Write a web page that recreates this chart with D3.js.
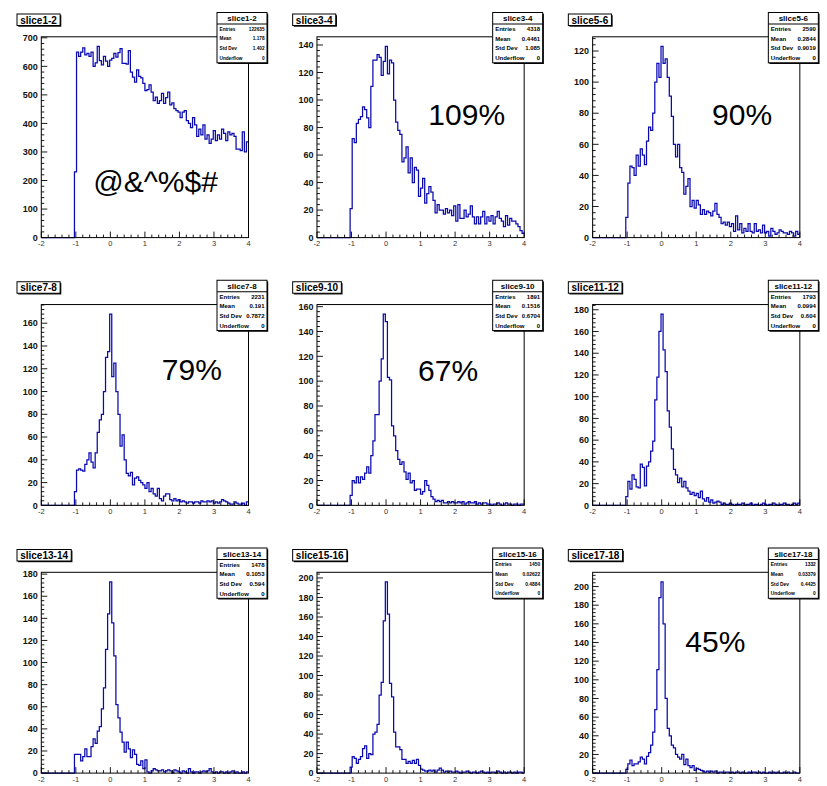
<!DOCTYPE html>
<html>
<head>
<meta charset="utf-8">
<script src="https://cdn.jsdelivr.net/npm/d3@7/dist/d3.min.js"></script>
<style>
    body { margin: 0; background: #fff; }
    svg { display: block; font-family: "Liberation Sans", Arial, Helvetica, sans-serif; }
</style>
</head>
<body>
<div id="canvas"></div>
<script>
// ─────────────────────────────────────────────
// DATA — 100 bins from -2 to 4, bins before FIRST_BIN are empty
// ─────────────────────────────────────────────
const X_MIN = -2, X_MAX = 4, N_BINS = 100, FIRST_BIN = 16;

const names = ["slice1-2", "slice3-4", "slice5-6", "slice7-8", "slice9-10",
    "slice11-12", "slice13-14", "slice15-16", "slice17-18"];

const slice1_2 = [230,
    650, 635, 650, 665, 640, 645, 635, 650, 600, 612, 670, 620, 605, 635, 618, 600, 622,
    628, 645, 632, 648, 662, 610, 610, 608, 655, 580, 562, 545,
    588, 565, 560, 540, 515, 518, 535, 510, 480, 492,
    470, 480, 505, 470, 490, 510, 465, 472, 452, 445, 440,
    420, 440, 445, 410, 400, 385, 420, 395, 355, 380, 360,
    395, 345, 360, 330, 345, 375, 340, 360, 345, 380, 365,
    340, 370, 360, 365, 355, 310, 310, 305, 370, 300, 335];
const slice3_4 = [21, 72, 69, 83, 86, 88, 95, 93, 87, 80, 110, 129, 129, 133, 131, 118, 128, 139, 119, 129,
    127, 100, 84, 78, 75, 55, 58, 66, 47, 58, 40, 51, 49, 30, 36, 43, 25, 32, 37, 33,
    27, 18, 24, 20, 20, 17, 21, 18, 20, 16, 23, 12, 24, 14, 14, 20, 15, 17, 23, 15,
    10, 15, 10, 15, 19, 10, 15, 12, 16, 10, 15, 19, 14, 12, 8, 16, 9, 14, 12, 12, 10, 8, 5, 3];
const slice5_6 = [13, 35, 46, 45, 40, 53, 46, 57, 53, 47, 62, 71, 69, 80, 100, 112, 103, 123, 112, 115,
    103, 91, 78, 60, 52, 60, 45, 42, 28, 33, 38, 20, 24, 19, 24, 21, 15, 18, 15, 17,
    16, 14, 17, 22, 15, 13, 9, 10, 8, 10, 7, 9, 4, 14, 5, 9, 3, 6, 4, 9,
    4, 3, 9, 4, 5, 3, 8, 3, 4, 1, 6, 4, 2, 3, 5, 4, 3, 3, 2, 4, 3, 1, 4, 2];
const slice7_8 = [12, 31, 32, 31, 30, 36, 40, 46, 38, 33, 46, 64, 75, 80, 100, 130, 135, 168, 113, 125,
    100, 80, 52, 62, 40, 28, 26, 29, 18, 24, 25, 22, 20, 18, 15, 20, 12, 15, 10, 8,
    15, 6, 4, 8, 10, 10, 5, 4, 6, 4, 5, 3, 4, 3, 2, 3, 3, 2, 3, 3,
    2, 4, 3, 3, 4, 3, 4, 2, 3, 2, 3, 5, 4, 3, 2, 1, 1, 3, 2, 1, 1, 2, 0, 3];
const slice9_10 = [8, 20, 18, 23, 18, 23, 21, 26, 31, 26, 40, 52, 73, 73, 100, 118, 154, 148, 103, 101,
    64, 56, 44, 37, 33, 35, 27, 21, 26, 18, 20, 12, 13, 13, 9, 11, 20, 16, 12, 7,
    5, 3, 4, 3, 4, 2, 2, 3, 2, 3, 2, 2, 3, 2, 3, 1, 2, 3, 2, 2,
    3, 1, 2, 1, 2, 2, 1, 1, 0, 1, 1, 2, 1, 0, 1, 2, 1, 1, 0, 1, 1, 0, 1, 1];
const slice11_12 = [8, 22, 15, 28, 24, 17, 16, 38, 35, 18, 36, 40, 50, 59, 97, 118, 160, 176, 143, 123,
    87, 72, 52, 33, 28, 21, 25, 17, 22, 16, 13, 10, 12, 9, 11, 7, 13, 6, 4, 7,
    3, 5, 2, 3, 4, 3, 1, 2, 1, 1, 2, 1, 0, 1, 1, 1, 2, 0, 1, 1,
    2, 0, 1, 1, 0, 1, 2, 1, 0, 1, 1, 2, 1, 0, 1, 1, 2, 1, 1, 0, 1, 2, 1, 2];
const slice13_14 = [17, 17, 17, 11, 15, 22, 15, 15, 24, 31, 27, 38, 42, 58, 77, 112, 144, 173, 136, 106,
    62, 50, 37, 28, 19, 28, 22, 14, 21, 17, 8, 7, 11, 4, 12, 1, 0, 2, 4, 3,
    2, 2, 3, 1, 2, 3, 2, 0, 3, 2, 1, 0, 2, 1, 0, 4, 1, 0, 1, 1,
    0, 1, 2, 1, 2, 4, 1, 0, 1, 0, 1, 1, 0, 1, 0, 1, 2, 0, 1, 0, 0, 1, 0, 1];
const slice15_16 = [6, 17, 15, 10, 14, 17, 25, 28, 15, 20, 19, 40, 42, 50, 80, 93, 156, 196, 163, 92,
    78, 42, 27, 27, 24, 14, 14, 10, 12, 10, 13, 10, 14, 8, 4, 3, 2, 2, 3, 2,
    3, 1, 3, 5, 3, 1, 2, 1, 2, 1, 1, 2, 1, 0, 1, 1, 2, 1, 0, 1,
    1, 0, 1, 2, 1, 0, 1, 0, 1, 1, 0, 2, 1, 0, 1, 0, 1, 1, 0, 1, 0, 1, 1, 0];
const slice17_18 = [4, 10, 14, 8, 10, 10, 12, 17, 15, 10, 18, 22, 30, 44, 68, 111, 188, 205, 160, 80,
    48, 40, 30, 27, 20, 17, 15, 20, 9, 15, 8, 6, 8, 3, 5, 4, 3, 2, 1, 2,
    1, 2, 1, 2, 0, 1, 1, 0, 1, 1, 0, 1, 0, 1, 1, 0, 1, 0, 0, 1,
    0, 1, 1, 0, 1, 0, 1, 0, 0, 1, 0, 1, 0, 1, 0, 0, 1, 0, 1, 0, 0, 1, 0, 0];

const series = [slice1_2, slice3_4, slice5_6, slice7_8, slice9_10,
    slice11_12, slice13_14, slice15_16, slice17_18];

// stats box values, as printed
const entries = ["122635", "4318", "2590", "2231", "1891", "1793", "1478", "1450", "1332"];
const means = ["1.178", "0.4461", "0.2844", "0.191", "0.1516", "0.0994", "0.1053", "0.02622", "0.03379"];
const stdDevs = ["1.402", "1.085", "0.9019", "0.7872", "0.6704", "0.604", "0.594", "0.4884", "0.4425"];
const underflows = ["0", "0", "0", "0", "0", "0", "0", "0", "0"];

const notes = ["@&^%$#", "109%", "90%", "79%", "67%", "", "", "", "45%"];

// ─────────────────────────────────────────────
// LAYOUT (pixels, relative to each pad)
// ─────────────────────────────────────────────
const W = 827, H = 786;
const PAD_W = W / 3, ROW_H = 267.75;
const FRAME = { left: 41.3, right: 248.5, top: 36.8, bottom: 237.6 };
const STATS = { x0: 217, x1: 267, y0: 12.5, y1: 62.8, head: 11.5 };
const STAT_FONT = [4.7, 6, 6, 6, 6, 6, 6, 4.9, 4.9];
const NOTE_POS = [[93.3, 192], [152.7, 125], [160.7, 125], [161.8, 112], [142.4, 113],
    null, null, null, [134, 116]];
const LINE = "#0a0ab0";

const svg = d3.select("#canvas").append("svg")
    .attr("width", W)
    .attr("height", H);

svg.append("rect").attr("width", W).attr("height", H).attr("fill", "#fff");

function fmtTick(v) {
    return String(+v.toFixed(6)).replace("\u2212", "-");
}

// box with the small ROOT-style shadow
function shadowBox(g, x, y, w, h) {
    g.append("rect")
        .attr("x", x + 1.2).attr("y", y + 1.2)
        .attr("width", w).attr("height", h)
        .attr("fill", "#000");
    g.append("rect")
        .attr("x", x).attr("y", y)
        .attr("width", w).attr("height", h)
        .attr("fill", "#fff")
        .attr("stroke", "#000")
        .attr("stroke-width", 1);
}

function drawPanel(i) {
    const col = i % 3, row = Math.floor(i / 3);
    const g = svg.append("g")
        .attr("transform", `translate(${col * PAD_W},${row * ROW_H})`);

    const binW = (X_MAX - X_MIN) / N_BINS;
    const vals = d3.range(N_BINS).map(k => k < FIRST_BIN ? 0 : (series[i][k - FIRST_BIN] || 0));
    const ymax = d3.max(vals) * 1.05;

    const x = d3.scaleLinear().domain([X_MIN, X_MAX]).range([FRAME.left, FRAME.right]);
    const y = d3.scaleLinear().domain([0, ymax]).range([FRAME.bottom, FRAME.top]);

    // ── Histogram outline ─────────────────────────
    const pts = vals.map((v, k) => [X_MIN + k * binW, v]);
    pts.push([X_MAX, vals[N_BINS - 1]]);
    const line = d3.line()
        .x(d => x(d[0]))
        .y(d => y(d[1]))
        .curve(d3.curveStepAfter);
    g.append("path")
        .attr("d", line(pts))
        .attr("fill", "none")
        .attr("stroke", LINE)
        .attr("stroke-width", 1.25);

    // ── Frame ─────────────────────────────────────
    g.append("rect")
        .attr("x", FRAME.left).attr("y", FRAME.top)
        .attr("width", FRAME.right - FRAME.left)
        .attr("height", FRAME.bottom - FRAME.top)
        .attr("fill", "none")
        .attr("stroke", "#000")
        .attr("stroke-width", 1);

    // ── Y axis ────────────────────────────────────
    const yStep = d3.tickStep(0, ymax, 8);
    const yMajor = d3.range(0, ymax + 1e-9, yStep);
    const yMinor = d3.range(0, ymax + 1e-9, yStep / 5);
    g.append("g").selectAll("line")
        .data(yMinor)
        .join("line")
        .attr("x1", FRAME.left)
        .attr("x2", (d, k) => FRAME.left + (k % 5 === 0 ? 6 : 3))
        .attr("y1", d => y(d)).attr("y2", d => y(d))
        .attr("stroke", "#000").attr("stroke-width", 0.9);
    g.append("g").selectAll("text")
        .data(yMajor)
        .join("text")
        .attr("x", FRAME.left - 3.5)
        .attr("y", d => y(d) + 3.2)
        .attr("text-anchor", "end")
        .attr("font-size", 9)
        .attr("font-weight", "bold")
        .attr("fill", "#111")
        .text(fmtTick);

    // ── X axis ────────────────────────────────────
    const xMinor = d3.range(0, 31).map(k => X_MIN + k * 0.2);
    const xMajor = d3.range(X_MIN, X_MAX + 1);
    g.append("g").selectAll("line")
        .data(xMinor)
        .join("line")
        .attr("x1", d => x(d)).attr("x2", d => x(d))
        .attr("y1", FRAME.bottom)
        .attr("y2", (d, k) => FRAME.bottom - (k % 5 === 0 ? 6 : 3))
        .attr("stroke", "#000").attr("stroke-width", 0.9);
    g.append("g").selectAll("text")
        .data(xMajor)
        .join("text")
        .attr("x", d => x(d))
        .attr("y", FRAME.bottom + 8.6)
        .attr("text-anchor", "middle")
        .attr("font-size", 7.5)
        .attr("fill", "#333")
        .text(d => String(d));

    // ── Title box ─────────────────────────────────
    const tg = g.append("g");
    const tt = tg.append("text")
        .attr("x", 17 + 3.2)
        .attr("y", 23.6)
        .attr("font-size", 10)
        .attr("font-weight", "bold")
        .text(names[i]);
    const tw = tt.node().getComputedTextLength();
    tt.remove();
    shadowBox(tg, 17, 14, tw + 6.4, 11.5);
    tg.append("text")
        .attr("x", 17 + 3.2)
        .attr("y", 23.6)
        .attr("font-size", 10)
        .attr("font-weight", "bold")
        .text(names[i]);

    // ── Stats box ─────────────────────────────────
    const sg = g.append("g");
    const sw = STATS.x1 - STATS.x0, sh = STATS.y1 - STATS.y0;
    shadowBox(sg, STATS.x0, STATS.y0, sw, sh);
    sg.append("line")
        .attr("x1", STATS.x0).attr("x2", STATS.x1)
        .attr("y1", STATS.y0 + STATS.head).attr("y2", STATS.y0 + STATS.head)
        .attr("stroke", "#000").attr("stroke-width", 1);
    sg.append("text")
        .attr("x", (STATS.x0 + STATS.x1) / 2)
        .attr("y", STATS.y0 + 8.8)
        .attr("text-anchor", "middle")
        .attr("font-size", 8)
        .attr("font-weight", "bold")
        .text(names[i]);

    const rows = [["Entries", entries[i]], ["Mean", means[i]],
        ["Std Dev", stdDevs[i]], ["Underflow", underflows[i]]];
    const rowH = (sh - STATS.head) / rows.length;
    const fs = STAT_FONT[i];
    rows.forEach((r, k) => {
        const cy = STATS.y0 + STATS.head + rowH * (k + 0.5) + fs * 0.36;
        sg.append("text")
            .attr("x", STATS.x0 + 2.5).attr("y", cy)
            .attr("font-size", fs).attr("font-weight", "bold")
            .text(r[0]);
        sg.append("text")
            .attr("x", STATS.x1 - 2.5).attr("y", cy)
            .attr("text-anchor", "end")
            .attr("font-size", fs).attr("font-weight", "bold")
            .text(r[1]);
    });

    // ── Big annotation ────────────────────────────
    if (notes[i] && NOTE_POS[i]) {
        g.append("text")
            .attr("x", NOTE_POS[i][0])
            .attr("y", NOTE_POS[i][1])
            .attr("font-size", 30)
            .attr("fill", "#000")
            .text(notes[i]);
    }
}

d3.range(9).forEach(drawPanel);
</script>
</body>
</html>
